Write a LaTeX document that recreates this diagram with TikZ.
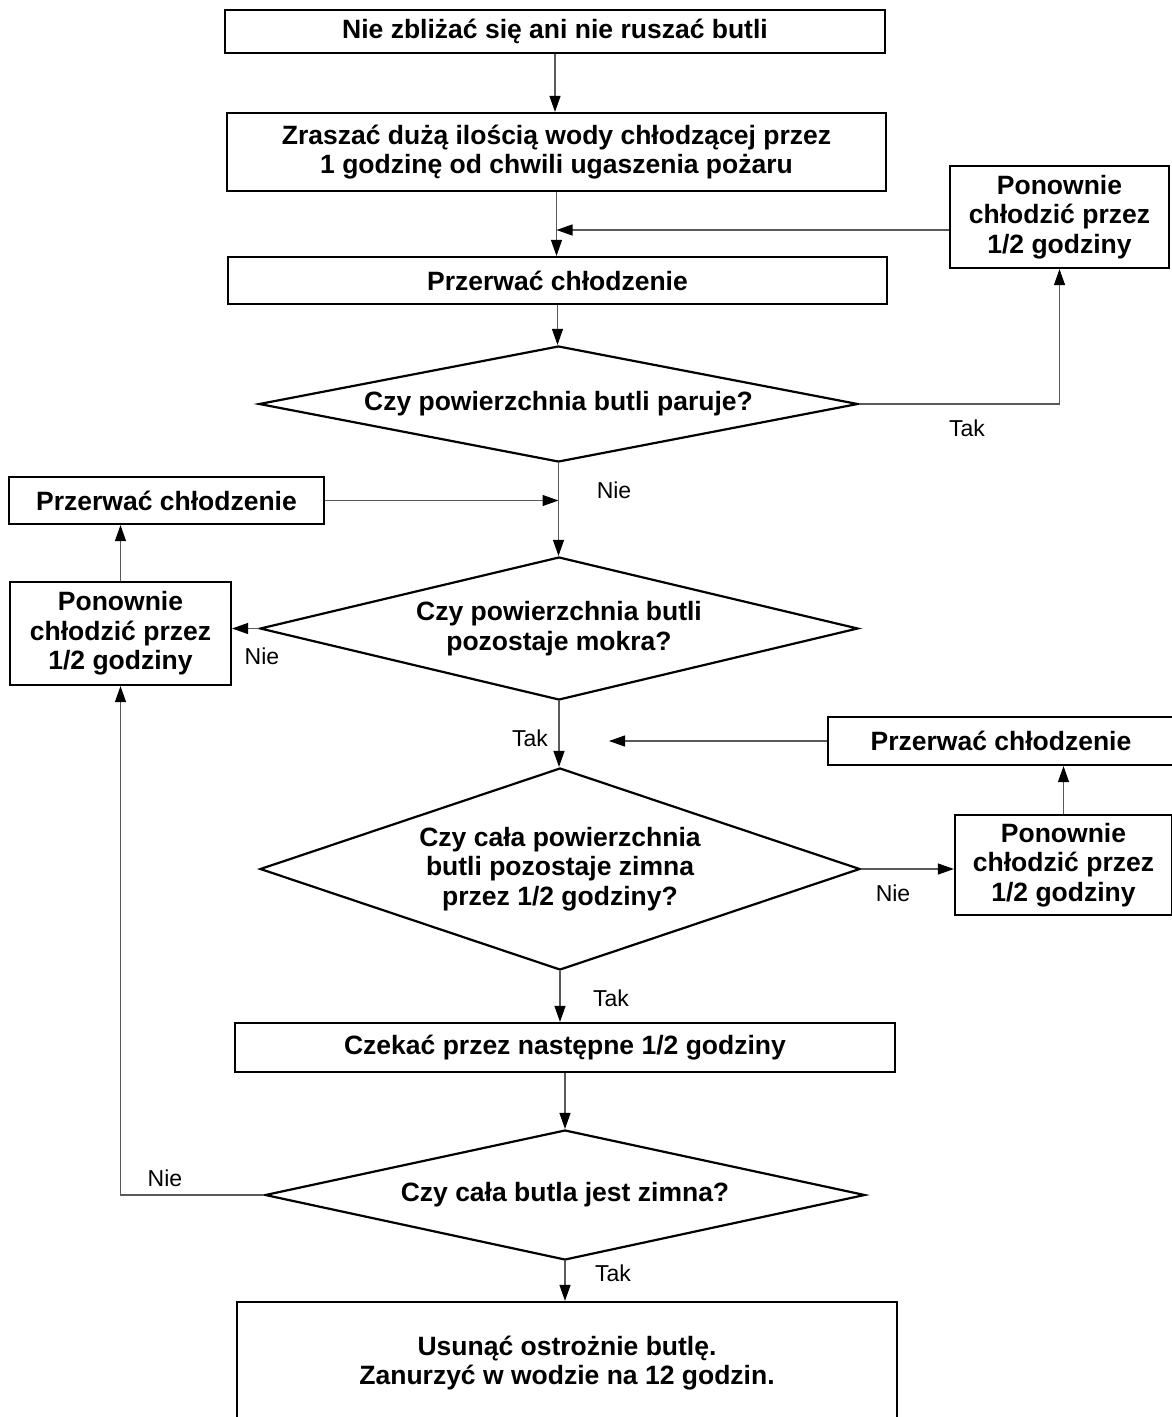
\documentclass[tikz,border=0pt]{standalone}
\usepackage{fontspec}
\setmainfont{Liberation Sans}
\usetikzlibrary{shapes.geometric,arrows.meta}
\begin{document}
\begin{tikzpicture}[x=1pt,y=-1pt,
  box/.style={draw=black,line width=2.2pt,rectangle,inner sep=0pt,align=center,
    font=\fontsize{26.5}{29.5}\selectfont\bfseries},
  dia/.style={draw=black,line width=2.2pt,diamond,inner sep=0pt,align=center,
    font=\fontsize{26.5}{29.5}\selectfont\bfseries},
  conn/.style={draw=black!65,line width=1.1pt,-{Triangle[length=16pt,width=11pt,color=black]}},
  lbl/.style={inner sep=0pt,font=\fontsize{23}{26}\selectfont}]
\path[use as bounding box,fill=white] (0,0) rectangle (1172,1417);

\node[box,minimum width=660pt,minimum height=43pt] (b1) at (555,31.5) {Nie zbliżać się ani nie ruszać butli};
\node[box,minimum width=659pt,minimum height=78pt] (b2) at (556.5,152) {Zraszać dużą ilością wody chłodzącej przez\\1 godzinę od chwili ugaszenia pożaru};
\node[box,minimum width=659pt,minimum height=47pt] (b3) at (557.5,280.5) {Przerwać chłodzenie};
\node[box,minimum width=219pt,minimum height=102pt] (r1) at (1059.5,217) {Ponownie\\chłodzić przez\\1/2 godziny};
\node[dia,shape aspect=5.16,minimum width=599pt,minimum height=116pt] (d1) at (558.5,404) {Czy powierzchnia butli paruje?};
\node[box,minimum width=315pt,minimum height=47pt] (l1) at (166.5,500.5) {Przerwać chłodzenie};
\node[box,minimum width=221pt,minimum height=103pt] (l2) at (120.5,633.5) {Ponownie\\chłodzić przez\\1/2 godziny};
\node[dia,shape aspect=4.18,minimum width=598pt,minimum height=143pt] (d2) at (559,628.5) {Czy powierzchnia butli\\pozostaje mokra?};
\node[box,minimum width=346pt,minimum height=48pt] (r2) at (1001,741) {Przerwać chłodzenie};
\node[box,minimum width=217pt,minimum height=100pt] (r3) at (1063.5,865) {Ponownie\\chłodzić przez\\1/2 godziny};
\node[dia,shape aspect=2.97,minimum width=600pt,minimum height=202pt] (d3) at (560,869) {Czy cała powierzchnia\\butli pozostaje zimna\\przez 1/2 godziny?};
\node[box,minimum width=660pt,minimum height=49pt] (b4) at (565,1047.5) {Czekać przez następne 1/2 godziny};
\node[dia,shape aspect=4.6,minimum width=600pt,minimum height=130pt] (d4) at (565,1195) {Czy cała butla jest zimna?};
\node[box,minimum width=660pt,minimum height=122pt] (b5) at (567,1363) {Usunąć ostrożnie butlę.\\Zanurzyć w wodzie na 12 godzin.};

\coordinate (j1) at (b2.south |- 0,230);
\coordinate (j3) at (609,741);

\draw[conn] (b1.south) -- (b1.south |- b2.north);
\draw[conn] (b2.south) -- (b2.south |- b3.north);
\draw[conn] (r1.west |- j1) -- (j1);
\draw[conn] (b3.south) -- (b3.south |- d1.north);
\draw[conn] (d1.east) -| (r1.south);
\draw[conn] (d1.south) -- (d1.south |- d2.north);
\coordinate (j2) at (d1.south |- l1.east);
\draw[conn] (l1.east) -- (j2);
\draw[conn] (d2.west) -- (d2.west -| l2.east);
\draw[conn] (l2.north) -- (l2.north |- l1.south);
\draw[conn] (d2.south) -- (d2.south |- d3.north);
\draw[conn] (r2.west) -- (j3);
\draw[conn] (r3.north) -- (r3.north |- r2.south);
\draw[conn] (d3.east) -- (d3.east -| r3.west);
\draw[conn] (d3.south) -- (d3.south |- b4.north);
\draw[conn] (b4.south) -- (b4.south |- d4.north);
\draw[conn] (d4.west) -| (l2.south);
\draw[conn] (d4.south) -- (d4.south |- b5.north);

\node[lbl] (t1) at (967,428) {Tak};
\node[lbl] (n1) at (614,490) {Nie};
\node[lbl] (n2) at (262,656) {Nie};
\node[lbl] (t2) at (530,738) {Tak};
\node[lbl] (n3) at (893,893) {Nie};
\node[lbl] (t3) at (611,998) {Tak};
\node[lbl] (n4) at (165,1178) {Nie};
\node[lbl] (t4) at (613,1273) {Tak};
\end{tikzpicture}
\end{document}
